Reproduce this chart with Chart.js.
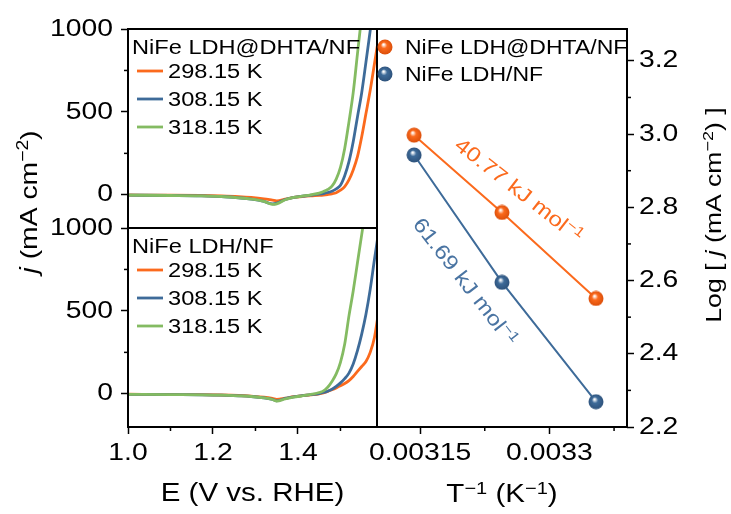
<!DOCTYPE html>
<html>
<head>
<meta charset="utf-8">
<script src="https://cdn.jsdelivr.net/npm/chart.js@4.4.0/dist/chart.umd.min.js"></script>
<style>
  body { margin: 0; background: #fff; }
  #fig { position: relative; width: 731px; height: 514px; background: #fff; }
  #fig canvas { position: absolute; left: 0; top: 0; }
</style>
</head>
<body>
<div id="fig">
  <canvas id="lsvTop" width="731" height="514"></canvas>
  <canvas id="lsvBottom" width="731" height="514"></canvas>
  <canvas id="arrhenius" width="731" height="514"></canvas>
</div>
<script>
// LSV curves: j (mA cm-2) against E (V vs. RHE)
const potential = [1.00, 1.10, 1.17, 1.22, 1.26, 1.29, 1.32, 1.34, 1.35, 1.37, 1.39, 1.41, 1.43, 1.45,
                   1.46, 1.47, 1.48, 1.49, 1.50, 1.51, 1.52, 1.53, 1.54, 1.55, 1.56, 1.57, 1.58, 1.59];
const temps = ['298.15 K', '308.15 K', '318.15 K'];

const dhta298 = [-1, -2, -4, -7, -11, -16, -24, -32, -36, -26, -16, -10, -6, -3, -1, 2, 6, 13, 28, 50, 90, 150, 230, 350, 490, 630, 790, 950];
const dhta308 = [-2, -4, -6, -10, -18, -26, -40, -55, -50, -28, -16, -8, -2, 4, 8, 14, 22, 36, 58, 115, 200, 320, 470, 616, 800, 990, 1180, 1380];
const dhta318 = [-2, -4, -6, -10, -18, -26, -40, -58, -55, -30, -16, -8, 0, 10, 20, 32, 52, 95, 165, 280, 440, 616, 850, 1080, 1300, 1500, 1700, 1900];

const ldh298 = [-2, -4, -5, -7, -10, -14, -20, -28, -34, -26, -17, -11, -6, 0, 6, 15, 25, 36, 48, 62, 80, 105, 135, 165, 195, 250, 340, 500];
const ldh308 = [-3, -5, -6, -8, -12, -16, -24, -34, -42, -28, -18, -11, -5, 2, 8, 16, 28, 45, 66, 92, 125, 180, 260, 360, 480, 630, 810, 980];
const ldh318 = [-3, -5, -6, -8, -12, -16, -24, -34, -44, -30, -20, -12, -4, 8, 18, 40, 75, 120, 190, 300, 470, 620, 790, 960, 1130, 1300, 1470, 1640];

// Arrhenius plot
const invT = [0.003354, 0.003245, 0.003143];
const logjDhta = [2.551, 2.786, 2.997];
const logjLdh = [2.269, 2.595, 2.943];
const samples = ['NiFe LDH@DHTA/NF', 'NiFe LDH/NF'];
const eaLabels = ['40.77 kJ mol', '61.69 kJ mol'];

// axis ticks
const eTicks = [1.0, 1.2, 1.4], eMinor = [1.1, 1.3, 1.5];
const jTicks = [0, 500, 1000], jMinor = [250, 750];
const tTicks = [0.00315, 0.0033], tMinor = [0.003225, 0.003375];
const logTicks = [2.2, 2.4, 2.6, 2.8, 3.0, 3.2], logMinor = [2.3, 2.5, 2.7, 2.9, 3.1];

const FONT = "'Liberation Sans', Arial, sans-serif";
const SX = 1.18;  // the figure's lettering is wider than plain Arial
const orange = '#fb6a1d', blue = '#3e6b99', green = '#84bb62';
const lineColors = [orange, blue, green];

Chart.defaults.font.family = FONT;
Chart.defaults.color = '#000';

// stretch every text run horizontally
function widen(ctx) {
  ctx._fill = ctx.fillText;
  ctx.fillText = function (t, x, y) {
    this.save(); this.translate(x, y); this.scale(SX, 1); this._fill(t, 0, 0); this.restore();
  };
  return ctx;
}

// text with italic / superscript runs, y is the middle of the capitals
function text(ctx, segs, x, y, size, opt = {}) {
  if (typeof segs === 'string') segs = [{t: segs}];
  ctx.save();
  ctx.translate(x, y);
  if (opt.rot) ctx.rotate(opt.rot * Math.PI / 180);
  ctx.scale(SX, 1);
  ctx.fillStyle = opt.color || '#000';
  ctx.textAlign = 'left';
  ctx.textBaseline = 'alphabetic';
  const font = s => (s.it ? 'italic ' : '') + (s.sup ? size * 0.68 : size) + 'px ' + FONT;
  let w = 0;
  segs.forEach(s => { ctx.font = font(s); w += ctx.measureText(s.t).width; });
  let cx = opt.align === 'left' ? 0 : -w / 2;
  segs.forEach(s => {
    ctx.font = font(s);
    ctx._fill(s.t, cx, s.sup ? size * 0.02 : size * 0.36);
    cx += ctx.measureText(s.t).width;
  });
  ctx.restore();
}

function minorTicks(ctx, scale, values) {
  values.forEach(v => {
    const p = scale.getPixelForValue(v);
    ctx.beginPath();
    if (scale.isHorizontal()) { ctx.moveTo(p, scale.top); ctx.lineTo(p, scale.top + 4); }
    else if (scale.position === 'left') { ctx.moveTo(scale.right, p); ctx.lineTo(scale.right - 4, p); }
    else { ctx.moveTo(scale.left, p); ctx.lineTo(scale.left + 4, p); }
    ctx.stroke();
  });
}

function decor(minor, draw) {
  return {
    id: 'decor',
    afterDatasetsDraw(chart) {
      const ctx = chart.ctx, a = chart.chartArea;
      ctx.save();
      ctx.strokeStyle = '#000';
      ctx.lineWidth = 1.5;
      minor.forEach(([id, vals]) => minorTicks(ctx, chart.scales[id], vals));
      ctx.lineWidth = 2;
      ctx.strokeRect(a.left, a.top, a.right - a.left, a.bottom - a.top);
      draw(ctx, chart);
      ctx.restore();
    }
  };
}

function ball(color, dark) {
  const c = document.createElement('canvas');
  c.width = c.height = 16;
  const g = c.getContext('2d');
  const grad = g.createRadialGradient(6.5, 5.5, 0.5, 8, 8, 8);
  grad.addColorStop(0, '#ffffff');
  grad.addColorStop(0.35, color);
  grad.addColorStop(1, dark);
  g.fillStyle = grad;
  g.beginPath(); g.arc(8, 8, 7.5, 0, Math.PI * 2); g.fill();
  return c;
}

const grid = {drawOnChartArea: false, tickLength: 7, tickWidth: 1.5, tickColor: '#000'};
const setTicks = list => s => { s.ticks = list.map(v => ({value: v})); };

function lsvChart(id, name, series, area, showX) {
  return new Chart(widen(document.getElementById(id).getContext('2d')), {
    type: 'line',
    data: {
      datasets: series.map((ys, i) => ({
        label: temps[i],
        data: potential.map((e, k) => ({x: e, y: ys[k]})),
        borderColor: lineColors[i],
        borderWidth: 2.8,
        pointRadius: 0,
        cubicInterpolationMode: 'monotone',
        order: 3 - i
      }))
    },
    options: {
      responsive: false,
      animation: false,
      events: [],
      layout: {padding: {left: 0, top: area.top, right: 731 - area.right, bottom: showX ? 0 : 514 - area.bottom}},
      plugins: {legend: {display: false}, tooltip: {enabled: false}},
      scales: {
        x: {
          type: 'linear', min: 1.0, max: 1.586, display: showX,
          grid: grid, border: {display: false},
          afterBuildTicks: setTicks(eTicks),
          afterFit: s => { s.height = showX ? 514 - area.bottom : 0; },
          ticks: {font: {size: 24}, padding: 5, autoSkip: false, maxRotation: 0, callback: v => v.toFixed(1)}
        },
        y: {
          min: -200, max: 1000,
          grid: grid, border: {display: false},
          afterBuildTicks: setTicks(jTicks),
          afterFit: s => { s.width = area.left; },
          ticks: {font: {size: 24}, padding: 8, callback: v => String(v)}
        }
      }
    },
    plugins: [decor(showX ? [['x', eMinor], ['y', jMinor]] : [['y', jMinor]], (ctx, chart) => {
      const a = chart.chartArea;
      text(ctx, name, a.left + 4, a.top + 18, 20, {align: 'left'});
      chart.data.datasets.forEach((ds, i) => {
        const y = a.top + 42 + 28 * i;
        ctx.strokeStyle = ds.borderColor;
        ctx.lineWidth = 2.8;
        ctx.beginPath(); ctx.moveTo(a.left + 9, y); ctx.lineTo(a.left + 35, y); ctx.stroke();
        text(ctx, ds.label, a.left + 40, y, 20, {align: 'left'});
      });
      if (showX) {
        text(ctx, 'E (V vs. RHE)', (a.left + a.right) / 2, 492, 25);
        text(ctx, [{t: 'j', it: true}, {t: ' (mA cm'}, {t: '\u22122', sup: true}, {t: ')'}], 28, 202, 24, {rot: -90});
      }
    })]
  });
}

lsvChart('lsvTop', 'NiFe LDH@DHTA/NF', [dhta298, dhta308, dhta318], {left: 128, right: 377, top: 29, bottom: 228}, false);
lsvChart('lsvBottom', 'NiFe LDH/NF', [ldh298, ldh308, ldh318], {left: 128, right: 377, top: 228, bottom: 427}, true);

const balls = [ball(orange, '#d94c08'), ball(blue, '#2c5079')];
const arrSeries = [logjDhta, logjLdh];
const arrColors = [orange, blue];

new Chart(widen(document.getElementById('arrhenius').getContext('2d')), {
  type: 'line',
  data: {
    datasets: arrSeries.map((ys, i) => ({
      label: samples[i],
      data: invT.map((x, k) => ({x: x, y: ys[k]})),
      borderColor: arrColors[i],
      borderWidth: 2,
      pointStyle: balls[i],
      pointRadius: 8
    }))
  },
  options: {
    responsive: false,
    animation: false,
    events: [],
    layout: {padding: {left: 377, top: 29, right: 0, bottom: 0}},
    plugins: {legend: {display: false}, tooltip: {enabled: false}},
    scales: {
      x: {
        type: 'linear', min: 0.0031, max: 0.00339,
        grid: grid, border: {display: false},
        afterBuildTicks: setTicks(tTicks),
        afterFit: s => { s.height = 87; },
        ticks: {font: {size: 24}, padding: 5, autoSkip: false, maxRotation: 0, callback: v => String(v)}
      },
      y: {
        position: 'right', min: 2.2, max: 3.287,
        grid: grid, border: {display: false},
        afterBuildTicks: setTicks(logTicks),
        afterFit: s => { s.width = 104; },
        ticks: {font: {size: 24}, padding: 5, callback: v => v.toFixed(1)}
      }
    }
  },
  plugins: [decor([['x', tMinor], ['y', logMinor]], (ctx, chart) => {
    const a = chart.chartArea, sx = chart.scales.x, sy = chart.scales.y;
    samples.forEach((s, i) => {
      const y = a.top + 18 + 27 * i;
      ctx.drawImage(balls[i], a.left + 0, y - 8);
      text(ctx, s, a.left + 28, y, 19.5, {align: 'left'});
    });
    // activation energies written along the fitted lines
    const notes = [[0.003265, 2.848, 38, orange], [0.003203, 2.598, 52, '#4a74a2']];
    notes.forEach(([x, y, rot, color], i) => {
      text(ctx, [{t: eaLabels[i]}, {t: '\u22121', sup: true}], sx.getPixelForValue(x), sy.getPixelForValue(y), 20.5, {rot: rot, color: color});
    });
    text(ctx, [{t: 'T'}, {t: '\u22121', sup: true}, {t: ' (K'}, {t: '\u22121', sup: true}, {t: ')'}], (a.left + a.right) / 2, 493, 25);
    text(ctx, [{t: 'Log [ '}, {t: 'j', it: true}, {t: ' (mA cm'}, {t: '\u22122', sup: true}, {t: ') ]'}], 713, 215, 22.5, {rot: -90});
  })]
});
</script>
</body>
</html>
